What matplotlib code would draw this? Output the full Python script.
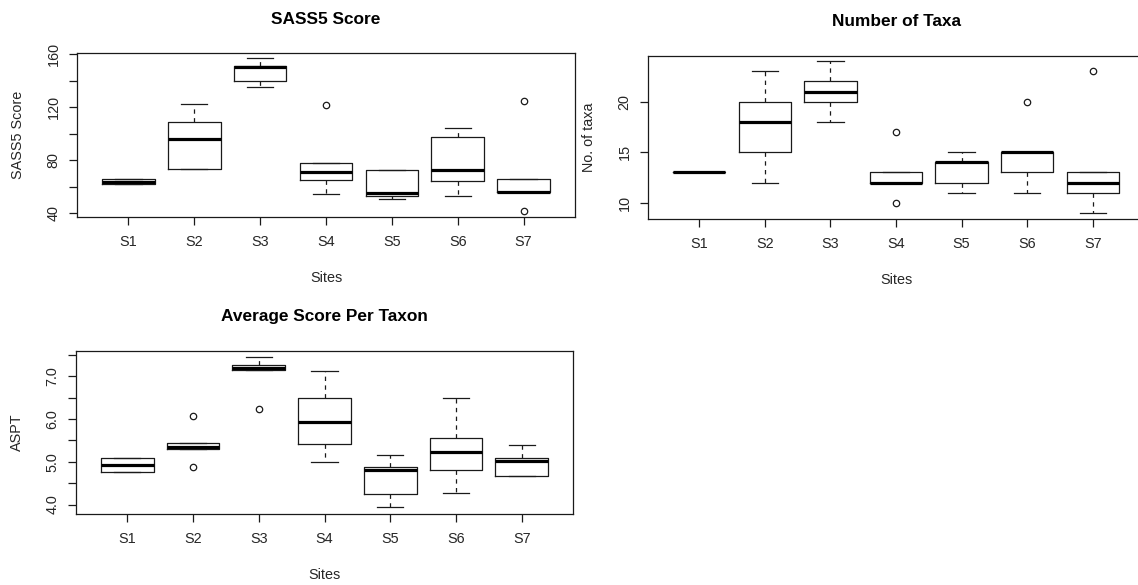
import matplotlib
matplotlib.use("Agg")
import matplotlib.pyplot as plt

plt.rcParams['font.family'] = ['Liberation Sans', 'DejaVu Sans']

sites = ["S1", "S2", "S3", "S4", "S5", "S6", "S7"]

# SASS5 Score (box statistics)
sass_lo = [62.0, 73.0, 135.0, 54.6, 51.0, 53.0, 55.8]
sass_q1 = [62.0, 73.0, 139.6, 65.3, 53.0, 64.3, 55.8]
sass_med = [63.7, 96.0, 150.3, 71.1, 55.3, 72.7, 56.1]
sass_q3 = [65.6, 108.5, 150.8, 78.0, 72.4, 97.4, 65.5]
sass_hi = [65.6, 122.2, 157.4, 78.0, 72.9, 104.3, 65.5]
sass_out = [[], [], [], [121.4], [], [], [124.3, 42.0]]

# Number of taxa
taxa_lo = [13, 12, 18, 12, 11, 11, 9]
taxa_q1 = [13, 15, 20, 12, 12, 13, 11]
taxa_med = [13, 18, 21, 12, 14, 15, 12]
taxa_q3 = [13, 20, 22, 13, 14, 15, 13]
taxa_hi = [13, 23, 24, 13, 15, 15, 13]
taxa_out = [[], [], [], [17, 10], [], [20], [23]]

# ASPT
aspt_lo = [4.77, 5.29, 7.15, 5.00, 3.94, 4.26, 4.66]
aspt_q1 = [4.77, 5.29, 7.15, 5.41, 4.24, 4.82, 4.66]
aspt_med = [4.92, 5.35, 7.20, 5.93, 4.82, 5.22, 5.01]
aspt_q3 = [5.09, 5.45, 7.27, 6.49, 4.88, 5.55, 5.09]
aspt_hi = [5.09, 5.45, 7.45, 7.12, 5.15, 6.48, 5.40]
aspt_out = [[], [6.07, 4.87], [6.24], [], [], [], []]

W, H = 1138, 585
fig = plt.figure(figsize=(W / 100, H / 100), dpi=100)

LC = '#1a1a1a'
TC = '#262626'
LW = 0.9
FS = 10.4
TFS = 12.4


def px2fig(x, y):
    return x / W, 1 - y / H


def panel(box, lo, q1, med, q3, hi, out, ylim, yticks, ylabels, title, ylabel):
    x0, y0, x1, y1 = box
    ax = fig.add_axes([x0 / W, 1 - y1 / H, (x1 - x0) / W, (y1 - y0) / H])
    stats = [dict(whislo=a, q1=b, med=c, q3=d, whishi=e, fliers=f, label=s)
             for a, b, c, d, e, f, s in zip(lo, q1, med, q3, hi, out, sites)]
    ax.bxp(stats, positions=range(1, len(sites) + 1), widths=0.8, capwidths=0.4,
           boxprops=dict(color=LC, lw=LW),
           medianprops=dict(color='black', lw=2.3, solid_capstyle='butt'),
           whiskerprops=dict(color=LC, lw=LW, linestyle=(0, (3.5, 3.5))),
           capprops=dict(color=LC, lw=LW),
           flierprops=dict(marker='o', markerfacecolor='none', markeredgecolor=LC,
                           markersize=4.6, markeredgewidth=LW))
    ax.set_xlim(0.22, len(sites) + 0.78)
    ax.set_ylim(*ylim)
    ax.set_xticks(range(1, len(sites) + 1))
    ax.set_xticklabels(sites)
    ax.set_yticks(yticks)
    ax.set_yticklabels(ylabels)
    ax.tick_params(axis='both', direction='out', length=5.8, width=LW, color=LC,
                   labelsize=FS, labelcolor=TC)
    ax.tick_params(axis='x', pad=7.0)
    ax.tick_params(axis='y', pad=6.0, labelrotation=90)
    for lab in ax.get_yticklabels():
        lab.set_va('center')
    for sp in ax.spines.values():
        sp.set_color(LC)
        sp.set_linewidth(LW)
    cx = (x0 + x1) / 2
    fig.text(*px2fig(cx, y0 - 34), title, ha='center', va='center',
             fontsize=TFS, fontweight='bold', color='black')
    fig.text(*px2fig(cx, y1 + 61), "Sites", ha='center', va='center',
             fontsize=FS, color=TC)
    fig.text(*px2fig(x0 - 59, (y0 + y1) / 2), ylabel, ha='center', va='center',
             rotation=90, fontsize=FS, color=TC)
    return ax


panel((77, 53, 575, 217), sass_lo, sass_q1, sass_med, sass_q3, sass_hi, sass_out,
      (37.2, 160.8), [40, 60, 80, 100, 120, 140, 160],
      ['40', '', '80', '', '120', '', '160'], "SASS5 Score", "SASS5 Score")

panel((648, 56, 1144, 219), taxa_lo, taxa_q1, taxa_med, taxa_q3, taxa_hi, taxa_out,
      (8.39, 24.52), [10, 15, 20], ['10', '15', '20'], "Number of Taxa", "No. of taxa")

panel((76, 351, 573, 514), aspt_lo, aspt_q1, aspt_med, aspt_q3, aspt_hi, aspt_out,
      (3.78, 7.59), [4.0, 4.5, 5.0, 5.5, 6.0, 6.5, 7.0, 7.5],
      ['4.0', '', '5.0', '', '6.0', '', '7.0', ''], "Average Score Per Taxon", "ASPT")

fig.savefig("out.png", dpi=100)
